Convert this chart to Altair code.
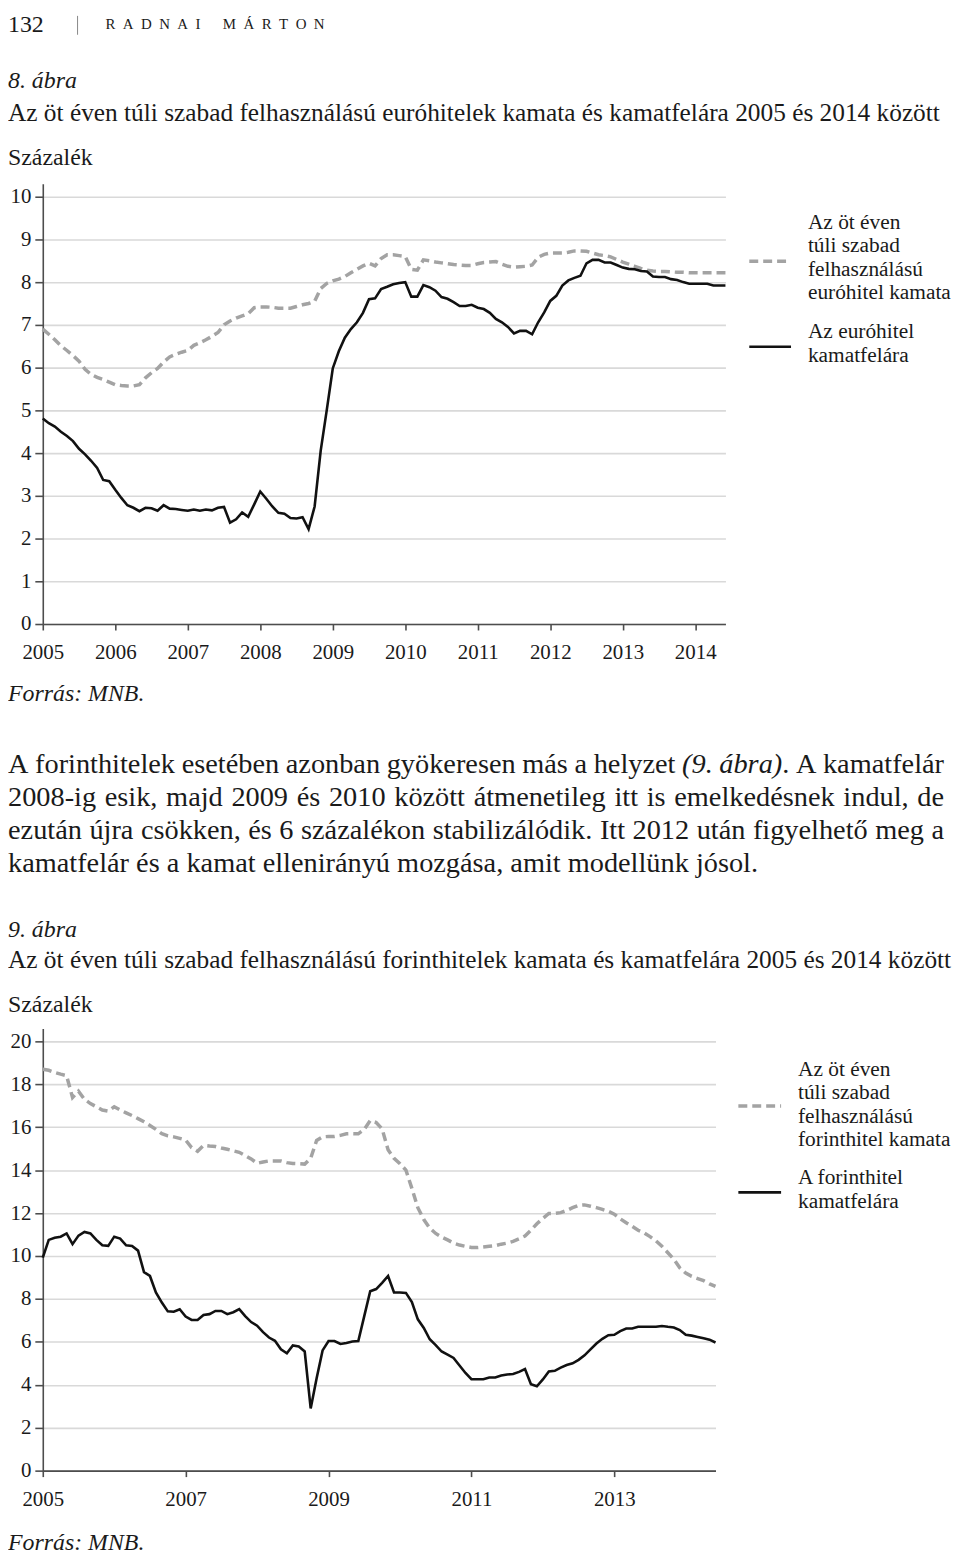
import altair as alt
import pandas as pd

FONT = "Liberation Serif"
TXT = "#1a1a1a"
GRAY = "#a3a3a3"
BLACK = "#111111"

# ---------------- data (monthly, Jan 2005 - Jun 2014) ----------------
years1 = list(range(2005, 2015))
years2 = [2005, 2007, 2009, 2011, 2013]
yticks1 = list(range(0, 11))
yticks2 = list(range(0, 21, 2))

eur_rate = [6.90, 6.78, 6.65, 6.51, 6.40, 6.28, 6.15, 5.96, 5.84, 5.77,
            5.72, 5.66, 5.60, 5.58, 5.57, 5.57, 5.60, 5.76, 5.88, 5.98,
            6.13, 6.25, 6.31, 6.36, 6.40, 6.52, 6.58, 6.65, 6.73, 6.82,
            7.00, 7.09, 7.16, 7.21, 7.26, 7.40, 7.42, 7.42, 7.41, 7.39,
            7.39, 7.39, 7.43, 7.47, 7.50, 7.55, 7.85, 7.97, 8.03, 8.07,
            8.13, 8.22, 8.30, 8.38, 8.44, 8.38, 8.55, 8.64, 8.64, 8.62,
            8.60, 8.30, 8.28, 8.52, 8.50, 8.47, 8.45, 8.43, 8.41, 8.40,
            8.39, 8.39, 8.43, 8.46, 8.47, 8.48, 8.42, 8.37, 8.35, 8.36,
            8.37, 8.40, 8.58, 8.65, 8.68, 8.68, 8.68, 8.70, 8.73, 8.73,
            8.72, 8.68, 8.64, 8.62, 8.59, 8.53, 8.47, 8.42, 8.37, 8.32,
            8.28, 8.26, 8.25, 8.25, 8.24, 8.23, 8.23, 8.22, 8.22, 8.22,
            8.22, 8.22, 8.22, 8.22]

eur_spread = [4.81, 4.70, 4.62, 4.50, 4.40, 4.28, 4.10, 3.97, 3.82, 3.65,
              3.37, 3.34, 3.14, 2.95, 2.78, 2.72, 2.64, 2.72, 2.71, 2.65,
              2.78, 2.70, 2.69, 2.67, 2.65, 2.68, 2.65, 2.68, 2.66, 2.72,
              2.74, 2.37, 2.45, 2.61, 2.51, 2.80, 3.10, 2.93, 2.75, 2.60,
              2.58, 2.48, 2.47, 2.50, 2.22, 2.75, 4.05, 5.00, 5.98, 6.38,
              6.70, 6.90, 7.06, 7.28, 7.60, 7.62, 7.84, 7.89, 7.95, 7.98,
              8.00, 7.66, 7.66, 7.93, 7.88, 7.80, 7.65, 7.61, 7.53, 7.44,
              7.44, 7.47, 7.40, 7.37, 7.28, 7.14, 7.06, 6.95, 6.80, 6.86,
              6.86, 6.78, 7.06, 7.29, 7.56, 7.68, 7.92, 8.04, 8.10, 8.15,
              8.44, 8.52, 8.52, 8.46, 8.46, 8.40, 8.34, 8.31, 8.30, 8.26,
              8.25, 8.13, 8.12, 8.12, 8.07, 8.05, 8.00, 7.96, 7.96, 7.96,
              7.96, 7.92, 7.92, 7.92]

huf_rate = [18.70, 18.65, 18.55, 18.47, 18.40, 17.38, 17.68, 17.30, 17.10, 16.95,
            16.80, 16.75, 16.95, 16.80, 16.67, 16.54, 16.40, 16.25, 16.08, 15.90,
            15.70, 15.60, 15.55, 15.48, 15.40, 15.05, 14.88, 15.15, 15.12, 15.10,
            15.03, 14.97, 14.90, 14.83, 14.68, 14.52, 14.32, 14.38, 14.43, 14.43,
            14.43, 14.35, 14.31, 14.30, 14.28, 14.55, 15.38, 15.55, 15.57, 15.57,
            15.62, 15.69, 15.70, 15.69, 15.90, 16.31, 16.22, 15.92, 14.95, 14.55,
            14.30, 14.00, 13.15, 12.25, 11.70, 11.30, 11.05, 10.88, 10.75, 10.60,
            10.51, 10.45, 10.40, 10.39, 10.42, 10.45, 10.48, 10.55, 10.60, 10.68,
            10.80, 10.93, 11.20, 11.50, 11.75, 11.98, 11.98, 12.02, 12.12, 12.25,
            12.36, 12.38, 12.32, 12.25, 12.17, 12.08, 11.95, 11.73, 11.55, 11.38,
            11.20, 11.08, 10.90, 10.70, 10.45, 10.15, 9.85, 9.45, 9.20, 9.05,
            8.95, 8.85, 8.70, 8.58]

huf_spread = [9.92, 10.75, 10.85, 10.90, 11.05, 10.55, 10.95, 11.12, 11.05, 10.75,
              10.50, 10.47, 10.90, 10.81, 10.50, 10.47, 10.25, 9.25, 9.07, 8.30,
              7.83, 7.42, 7.40, 7.52, 7.18, 7.02, 7.02, 7.25, 7.29, 7.44,
              7.44, 7.29, 7.38, 7.52, 7.20, 6.92, 6.75, 6.45, 6.20, 6.05,
              5.65, 5.47, 5.83, 5.78, 5.55, 2.90, 4.30, 5.60, 6.04, 6.04,
              5.90, 5.95, 6.02, 6.04, 7.20, 8.36, 8.46, 8.75, 9.07, 8.30,
              8.30, 8.28, 7.85, 7.05, 6.65, 6.12, 5.85, 5.55, 5.40, 5.25,
              4.90, 4.55, 4.26, 4.26, 4.26, 4.34, 4.34, 4.43, 4.48, 4.50,
              4.60, 4.73, 4.03, 3.93, 4.25, 4.62, 4.65, 4.80, 4.92, 5.00,
              5.16, 5.37, 5.65, 5.92, 6.14, 6.31, 6.33, 6.50, 6.62, 6.62,
              6.70, 6.70, 6.70, 6.70, 6.74, 6.70, 6.67, 6.55, 6.33, 6.29,
              6.23, 6.17, 6.10, 5.97]

n = len(eur_rate)
t = [2005 + i / 12 for i in range(n)]
df1 = pd.DataFrame({"t": t, "rate": eur_rate, "spread": eur_spread})
df2 = pd.DataFrame({"t": t, "rate": huf_rate, "spread": huf_spread})

# ---------------- texts ----------------
header_num = "132"
header_name = "R\u2002A\u2002D\u2002N\u2002A\u2002I\u2002\u2002\u2002M\u2002Á\u2002R\u2002T\u2002O\u2002N"
fig1_label = "8. ábra"
fig1_title = "Az öt éven túli szabad felhasználású euróhitelek kamata és kamatfelára 2005 és 2014 között"
fig2_label = "9. ábra"
fig2_title = "Az öt éven túli szabad felhasználású forinthitelek kamata és kamatfelára 2005 és 2014 között"
unit = "Százalék"
source = "Forrás: MNB."
legend1_rate = ["Az öt éven", "túli szabad", "felhasználású", "euróhitel kamata"]
legend1_spread = ["Az euróhitel", "kamatfelára"]
legend2_rate = ["Az öt éven", "túli szabad", "felhasználású", "forinthitel kamata"]
legend2_spread = ["A forinthitel", "kamatfelára"]
# paragraph: (text, italic, space before)
para_line1 = [("A forinthitelek esetében azonban gyökeresen más a helyzet", False, True),
              ("(9. ábra)", True, True), (". A kamatfelár", False, False)]
para_line2 = "2008-ig esik, majd 2009 és 2010 között átmenetileg itt is emelkedésnek indul, de"
para_line3 = "ezután újra csökken, és 6 százalékon stabilizálódik. Itt 2012 után figyelhető meg a"
para_line4 = "kamatfelár és a kamat ellenirányú mozgása, amit modellünk jósol."

# Times-compatible advance widths (per 1000 em) used to justify the paragraph
_W = {" ": 250, "(": 333, ")": 333, ",": 250, "-": 333, ".": 250, ":": 278,
      "A": 722, "I": 333, "M": 889, "N": 722, "B": 667,
      "a": 444, "b": 500, "c": 444, "d": 500, "e": 444, "f": 333, "g": 500,
      "h": 500, "i": 278, "j": 278, "k": 500, "l": 278, "m": 778, "n": 500,
      "o": 500, "p": 500, "q": 500, "r": 333, "s": 389, "t": 278, "u": 500,
      "v": 500, "w": 722, "x": 500, "y": 500, "z": 444}
_ACC = {"á": "a", "é": "e", "í": "i", "ó": "o", "ö": "o", "ő": "o", "ú": "u", "ü": "u", "ű": "u"}
_WI = {"a": 500, "r": 389, "b": 500}


def text_width(s, size, italic=False):
    tot = 0
    for ch in s:
        base = _ACC.get(ch, ch)
        if base.isdigit():
            w = 500
        elif italic and base in _WI:
            w = _WI[base]
        else:
            w = _W.get(base, 500)
        tot += w
    return tot * size / 1000.0


def txt(s, x, y, size, style="normal", align="left", color=TXT, baseline="middle"):
    return alt.Chart(pd.DataFrame({"s": [s]})).mark_text(
        font=FONT, fontSize=size, fontStyle=style, align=align,
        baseline=baseline, color=color
    ).encode(text="s:N", x=alt.value(x), y=alt.value(y))


def justify(pieces, size, x0, x1, y):
    # split pieces into words, keep attached pieces glued
    toks = []
    for text, it, sp in pieces:
        words = text.split(" ")
        for j, w in enumerate(words):
            if w == "":
                continue
            toks.append((w, it, sp if j == 0 else True))
    toks[0] = (toks[0][0], toks[0][1], False)
    widths = [text_width(w, size, it) for w, it, _ in toks]
    ngaps = sum(1 for _, _, sp in toks if sp)
    gap = (x1 - x0 - sum(widths)) / ngaps
    out = []
    x = x0
    for (w, it, sp), wd in zip(toks, widths):
        if sp:
            x += gap
        out.append(txt(w, x, y, size, style="italic" if it else "normal"))
        x += wd
    return out


def hrule(x1, x2, y, color, width, dash=None):
    kw = dict(color=color, strokeWidth=width)
    if dash:
        kw["strokeDash"] = dash
    return alt.Chart(pd.DataFrame({"k": [0]})).mark_rule(**kw).encode(
        x=alt.value(x1), x2=alt.value(x2), y=alt.value(y))


def vrule(x, y1, y2, color, width):
    return alt.Chart(pd.DataFrame({"k": [0]})).mark_rule(color=color, strokeWidth=width).encode(
        x=alt.value(x), y=alt.value(y1), y2=alt.value(y2))


def lines(df, xdom, xvals, ydom, yvals):
    x = alt.X("t:Q", scale=alt.Scale(domain=xdom, nice=False, zero=False),
              axis=alt.Axis(values=xvals, format="d", title=None, grid=False,
                            tickSize=6, labelPadding=12, labelFlush=False,
                            labelOverlap=False))

    def y(field):
        return alt.Y(f"{field}:Q", scale=alt.Scale(domain=ydom, nice=False),
                     axis=alt.Axis(values=yvals, format="d", title=None, grid=True,
                                   tickSize=8, labelPadding=4, labelOverlap=False))

    rate = alt.Chart(df).mark_line(color=GRAY, strokeWidth=3.5, strokeDash=[9, 5]).encode(
        x=x, y=y("rate"))
    spread = alt.Chart(df).mark_line(color=BLACK, strokeWidth=2.6).encode(
        x=x, y=y("spread"))
    return [rate, spread]


# ---------------- panel 1 (plot top = ref y 177, left = ref x 37) ----------------
W1, H1 = 687, 443
p1 = lines(df1, [2005, 2005 + (n - 1) / 12], years1, [0, 10.3], yticks1)
p1 += [
    txt(header_num, -35, -172, 24, baseline="top"),
    vrule(35, -169, -150, "#888888", 1),
    txt(header_name, 63, -168, 15, baseline="top"),
    txt(fig1_label, -35, -103, 24, style="italic"),
    txt(fig1_title, -35, -71, 25.5),
    txt(unit, -35, -26, 24),
    hrule(711, 753, 78, GRAY, 3.5, [9, 5]),
    hrule(711, 753, 164, BLACK, 2.6),
]
for k, s in enumerate(legend1_rate):
    p1.append(txt(s, 770, 39 + k * 23.7, 21.5))
for k, s in enumerate(legend1_spread):
    p1.append(txt(s, 770, 149 + k * 24, 21.5))
c1 = alt.layer(*p1).properties(width=W1, height=H1)

# ---------------- panel 2: text between charts (top = ref y 620) ----------------
PS = 28.5
XL, XR = -35, 907
p2 = [txt(source, -35, 70, 24, style="italic")]
p2 += justify(para_line1, PS, XL, XR, 141)
p2 += justify([(para_line2, False, True)], PS, XL, XR, 174.5)
p2 += justify([(para_line3, False, True)], PS, XL, XR, 207.8)
p2.append(txt(para_line4, XL, 241, PS))
p2 += [
    txt(fig2_label, -35, 308, 24, style="italic"),
    txt(fig2_title, -35, 338, 25.5),
    txt(unit, -35, 383, 24),
]
c2 = alt.layer(*p2).properties(width=W1, height=407)

# ---------------- panel 3 (plot top = ref y 1027) ----------------
W3, H3 = 677, 445
p3 = lines(df2, [2005, 2005 + (n - 1) / 12], years2, [0, 20.6], yticks2)
p3 += [
    hrule(700, 743, 78, GRAY, 3.5, [9, 5]),
    hrule(700, 743, 165, BLACK, 2.6),
    txt(source, -35, 518, 24, style="italic"),
]
for k, s in enumerate(legend2_rate):
    p3.append(txt(s, 760, 42 + k * 23.5, 21.5))
for k, s in enumerate(legend2_spread):
    p3.append(txt(s, 760, 151 + k * 24, 21.5))
c3 = alt.layer(*p3).properties(width=W3, height=H3)

chart = alt.vconcat(c1, c2, c3, spacing=0, bounds="flush").resolve_scale(
    x="independent", y="independent"
).properties(padding=0).configure_view(strokeWidth=0).configure_axis(
    labelFont=FONT, labelFontSize=21, labelColor=TXT,
    domainColor="#4d4d4d", domainWidth=1.6,
    tickColor="#4d4d4d", tickWidth=1.6,
    gridColor="#d9d9d9", gridWidth=1.6,
)

chart.save("out.html", embed_options={"renderer": "svg", "actions": False})
